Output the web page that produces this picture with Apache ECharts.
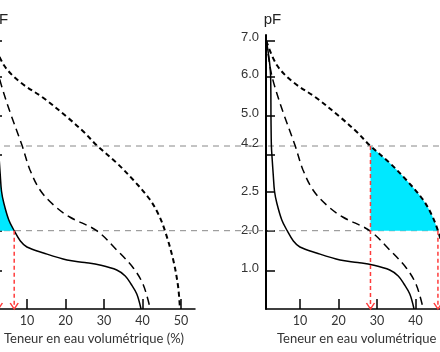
<!DOCTYPE html>
<html>
<head>
<meta charset="utf-8">
<script src="https://cdn.jsdelivr.net/npm/echarts@6/dist/echarts.min.js"></script>
<style>
  body { margin: 0; overflow: hidden; background: #fff; }
  #main { position: absolute; left: -40px; top: 0; width: 520px; height: 352px; }
</style>
</head>
<body>
<div id="main"></div>
<script>
// courbes pF : [teneur en eau (%), hauteur sur l'axe pF (schéma)]
var sableux = [[1.3, 268], [2.4, 233], [2.5, 189], [2.6, 163], [2.8, 150], [3.1, 133], [3.4, 118],
  [4.0, 106], [5.3, 89], [6.7, 78.3], [8.3, 68], [10, 62], [14.3, 56], [20.4, 49], [25, 46.5],
  [28.9, 44], [33.3, 39], [35.5, 33], [37, 25], [38.5, 15], [39.6, 0]];
var limoneux = [[1.3, 268], [2.4, 239], [3.5, 222], [5.7, 196], [8.7, 164], [10.8, 139], [13.4, 119],
  [16.9, 104], [21.1, 92], [28.1, 78.3], [33.3, 59], [37.6, 41], [40.2, 24], [42, 0]];
var argileux = [[1.3, 268], [4.0, 244], [8.2, 227], [14.3, 211], [20.4, 192], [24.5, 178], [28.3, 163],
  [33.3, 146], [37.6, 129], [41.8, 110], [44.2, 94], [45.8, 78.3], [47.9, 50], [49.2, 23], [49.7, 0]];

var pfLabels = ['1.0', '2.0', '2.5', '4.2', '5.0', '6.0', '7.0'];
var pfLabelPos = [40.5, 79, 118, 166, 196, 235, 272];
var pfTickPos = [38.7, 78.3, 117.3, 154, 193, 232.5, 268.3];
var xTicks = [10, 20, 30, 40, 50];

var pf42 = 163, pf20 = 78.3;
// points pF 4.2 / pF 2.0 repérés sur chaque panneau
var gaucheRU = [2.6, 6.7];   // sol sableux
var droiteRU = [28.3, 45.8]; // sol argileux

var arrow = 'path://M0,0L5,6L10,0';
var red = '#ff3b3b';

function ruArea(curve, a, b) {
  return curve.filter(function (p) { return p[0] >= a && p[0] <= b; });
}

function panel(i, curve, ru) {
  var s = [
    { type: 'line', xAxisIndex: i, yAxisIndex: i, data: ruArea(curve, ru[0], ru[1]), smooth: 0.35,
      symbol: 'none', lineStyle: { width: 0 }, areaStyle: { color: '#00e8ff', opacity: 1, origin: pf20 }, z: 2, silent: true },
    { type: 'line', xAxisIndex: i, yAxisIndex: i, data: sableux, smooth: 0.35, symbol: 'none',
      lineStyle: { color: '#000', width: 1.5 }, z: 3 },
    { type: 'line', xAxisIndex: i, yAxisIndex: i, data: limoneux, smooth: 0.35, symbol: 'none',
      lineStyle: { color: '#000', width: 1.5, type: [8, 5] }, z: 3 },
    { type: 'line', xAxisIndex: i, yAxisIndex: i, data: argileux, smooth: 0.35, symbol: 'none',
      lineStyle: { color: '#000', width: 2, type: [5, 3.5] }, z: 3 }
  ];
  [[ru[0], pf42], [ru[1], pf20]].forEach(function (p) {
    s.push({
      type: 'line', xAxisIndex: i, yAxisIndex: i, z: 4, showSymbol: true,
      data: [{ value: p, symbol: 'none' },
             { value: [p[0], 0], symbol: arrow, symbolSize: [8, 6], symbolOffset: [0, -3] }],
      lineStyle: { color: red, width: 1.5, type: [4, 3] },
      itemStyle: { color: 'rgba(0,0,0,0)', borderColor: red, borderWidth: 1.3 }
    });
  });
  return s;
}

function xAx(i) {
  return {
    type: 'value', gridIndex: i, min: 1.2, max: 53.6,
    name: 'Teneur en eau volumétrique (%)', nameLocation: 'middle', nameGap: 23,
    nameTextStyle: { fontFamily: 'Lato', fontSize: 13, color: '#333' },
    axisLine: { lineStyle: { color: '#000', width: 1.5 } },
    axisTick: { inside: true, length: 10, customValues: xTicks, lineStyle: { color: '#000', width: 1.5 } },
    axisLabel: { customValues: xTicks, margin: 5, fontFamily: 'Lato', fontSize: 12.5, color: '#333' },
    splitLine: { show: false }
  };
}

function yAx(i) {
  return {
    type: 'value', gridIndex: i, min: 0, max: 274,
    name: 'pF', nameLocation: 'end', nameGap: 8,
    nameTextStyle: { fontFamily: 'Liberation Sans', fontSize: 15, color: '#222', padding: [0, 0, 0, 13] },
    axisLine: { show: true, lineStyle: { color: '#000', width: 2 } },
    axisTick: { inside: true, length: 9, customValues: pfTickPos, lineStyle: { color: '#000', width: 1.5 } },
    axisLabel: {
      customValues: pfLabelPos, margin: 7, fontFamily: 'Liberation Sans', fontSize: 13, color: '#333',
      formatter: function (v) {
        var k = 0;
        pfLabelPos.forEach(function (q, j) { if (Math.abs(q - v) < Math.abs(pfLabelPos[k] - v)) k = j; });
        return pfLabels[k];
      }
    },
    splitLine: { show: false }
  };
}

var chart = echarts.init(document.getElementById('main'));
var series = panel(0, sableux, gaucheRU).concat(panel(1, argileux, droiteRU));
[pf42, pf20].forEach(function (y) {
  series.push({
    type: 'line', xAxisIndex: 2, yAxisIndex: 2, data: [[0, y], [1, y]], symbol: 'none', z: 1, silent: true,
    lineStyle: { color: '#888', width: 1, type: [6, 5] }
  });
});

chart.setOption({
  animation: false,
  grid: [
    { left: 33, width: 202, top: 35, height: 274, outerBoundsMode: 'none' },
    { left: 306, width: 202, top: 35, height: 274, outerBoundsMode: 'none' },
    { left: 0, right: 0, top: 35, height: 274, outerBoundsMode: 'none' }
  ],
  xAxis: [xAx(0), xAx(1), { type: 'value', gridIndex: 2, min: 0, max: 1, show: false }],
  yAxis: [yAx(0), yAx(1), { type: 'value', gridIndex: 2, min: 0, max: 274, show: false }],
  series: series
});
</script>
</body>
</html>
